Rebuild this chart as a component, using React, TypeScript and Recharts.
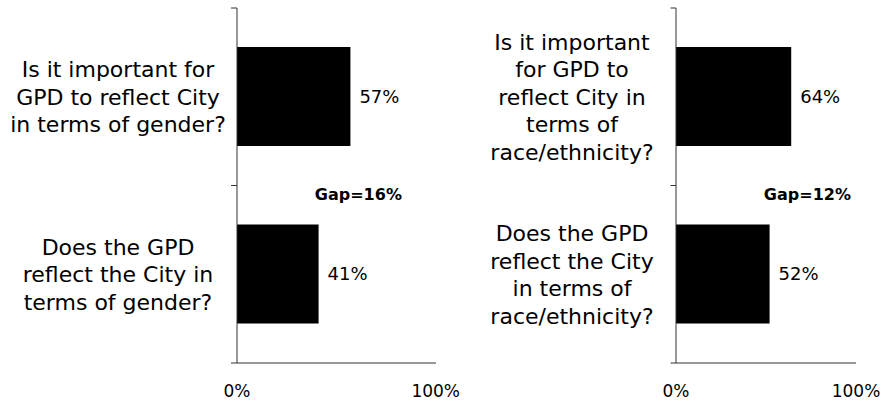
import { BarChart, Bar, XAxis, YAxis, LabelList, ReferenceLine } from 'recharts';

// question labels, one entry per line break in the original slide
const genderQuestions = [
  ['Is it important for', 'GPD to reflect City', 'in terms of gender?'],
  ['Does the GPD', 'reflect the City in', 'terms of gender?'],
];
const genderValues = [57, 41];

const raceQuestions = [
  ['Is it important', 'for GPD to', 'reflect City in', 'terms of', 'race/ethnicity?'],
  ['Does the GPD', 'reflect the City', 'in terms of', 'race/ethnicity?'],
];
const raceValues = [64, 52];

const xTicks = [0, 100];

const FONT = '"DejaVu Sans", sans-serif';
const AXIS = '#333';

interface TickProps {
  x?: number;
  y?: number;
  payload?: { value: string };
  center: number;
}

function QuestionTick({ x = 0, y = 0, payload, center }: TickProps) {
  const lines = String(payload?.value ?? '').split('\n');
  const lh = 27.5;
  const y0 = y - ((lines.length - 1) * lh) / 2;
  const cx = x - center;
  return (
    <text x={cx} y={y0} textAnchor="middle" dominantBaseline="central" fontSize={22} fontFamily={FONT} fill="#000">
      {lines.map((l, i) => (
        <tspan key={i} x={cx} y={y0 + i * lh}>{l}</tspan>
      ))}
    </text>
  );
}

interface PanelProps {
  questions: string[][];
  values: number[];
  width: number;
  axisWidth: number;
  rightMargin: number;
  labelCenter: number;
  gapAt: number;
}

function Panel({ questions, values, width, axisWidth, rightMargin, labelCenter, gapAt }: PanelProps) {
  const data = questions.map((q, i) => ({ name: q.join('\n'), value: values[i] }));
  const gap = values[0] - values[1];
  const first = data[0].name;
  const second = data[1].name;

  // little marks on the category axis, at the edges of each band
  const edges: { y: string; position: 'start' | 'end' }[] = [
    { y: first, position: 'start' },
    { y: second, position: 'start' },
    { y: second, position: 'end' },
  ];

  return (
    <BarChart
      width={width}
      height={414}
      data={data}
      layout="vertical"
      barCategoryGap="22%"
      margin={{ top: 8, right: rightMargin, left: 0, bottom: 0 }}
    >
      <XAxis
        type="number"
        domain={[0, 100]}
        ticks={xTicks}
        tickFormatter={(v) => `${v}%`}
        tickLine={false}
        tickSize={6}
        tickMargin={16}
        height={51}
        axisLine={{ stroke: AXIS }}
        tick={{ fontSize: 17, fontFamily: FONT, fill: '#000' }}
      />
      <YAxis
        type="category"
        dataKey="name"
        width={axisWidth}
        tickLine={false}
        tickSize={0}
        tickMargin={0}
        axisLine={{ stroke: AXIS }}
        tick={<QuestionTick center={labelCenter} />}
      />
      <Bar dataKey="value" fill="#000" isAnimationActive={false}>
        <LabelList
          dataKey="value"
          position="right"
          offset={9}
          formatter={(v: number) => `${v}%`}
          style={{ fontSize: 18, fontFamily: FONT, fill: '#000' }}
        />
      </Bar>
      {edges.map((e, i) => (
        <ReferenceLine
          key={i}
          position={e.position}
          segment={[{ x: -3, y: e.y }, { x: 0, y: e.y }]}
          stroke={AXIS}
          ifOverflow="visible"
        />
      ))}
      <ReferenceLine
        position="start"
        segment={[{ x: gapAt, y: second }, { x: gapAt, y: second }]}
        stroke="none"
        ifOverflow="visible"
        label={{
          value: `Gap=${gap}%`,
          position: 'bottom',
          offset: 3,
          fontSize: 16,
          fontWeight: 700,
          fontFamily: FONT,
          fill: '#000',
        }}
      />
    </BarChart>
  );
}

export default function App() {
  return (
    <div style={{ position: 'absolute', left: 0, top: 0, width: 886, height: 414, background: '#fff' }}>
      <div style={{ position: 'absolute', left: 0, top: 0 }}>
        <Panel
          questions={genderQuestions}
          values={genderValues}
          width={460}
          axisWidth={237}
          rightMargin={24}
          labelCenter={119}
          gapAt={61}
        />
      </div>
      <div style={{ position: 'absolute', left: 460, top: 0 }}>
        <Panel
          questions={raceQuestions}
          values={raceValues}
          width={426}
          axisWidth={216}
          rightMargin={30}
          labelCenter={104}
          gapAt={73}
        />
      </div>
    </div>
  );
}
